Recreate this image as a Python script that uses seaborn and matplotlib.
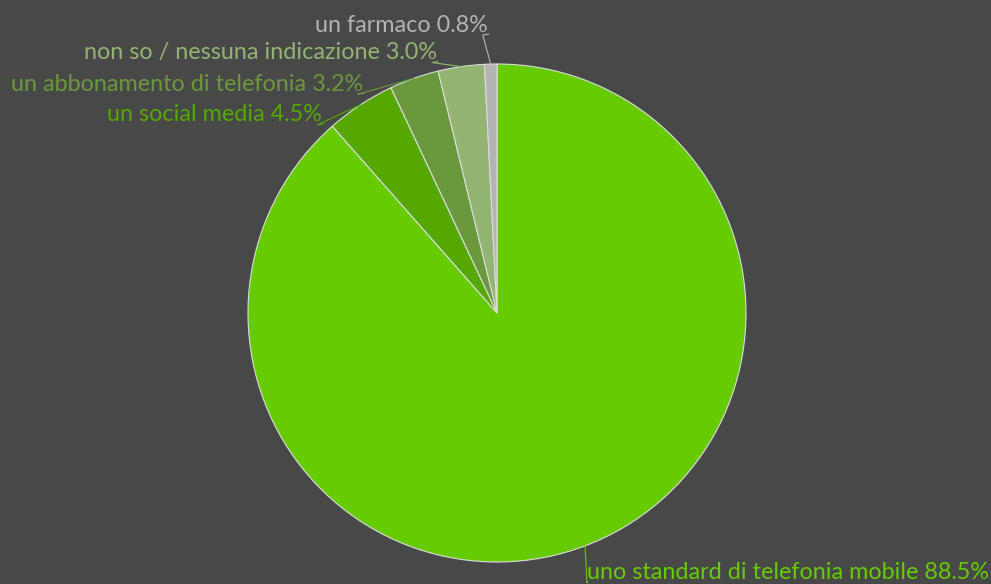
import numpy as np
import matplotlib.pyplot as plt
import seaborn as sns

# survey answers, clockwise from 12 o'clock
labels = ['uno standard di telefonia mobile', 'un social media',
          'un abbonamento di telefonia', 'non so / nessuna indicazione',
          'un farmaco']
values = [88.5, 4.5, 3.2, 3.0, 0.8]
colors = ['#66cc00', '#55a800', '#6b983c', '#94b474', '#b4b4b4']

# text offsets from the wedge rim, in pixels (dx, dy), plus alignment
label_offsets = [(2, -27, 'left'), (-38, -10, 'right'), (-51, -6, 'right'),
                 (-24, 14, 'right'), (-3, 39, 'right')]

bg = '#484848'
sns.set_theme(style='dark', rc={'figure.facecolor': bg, 'axes.facecolor': bg})
plt.rcParams['font.family'] = ['Lato', 'DejaVu Sans']

fig = plt.figure(figsize=(9.91, 5.84), dpi=100)
R = 249  # pie radius in pixels
ax = fig.add_axes([(497 - R) / 991, (584 - 313 - R) / 584, 2 * R / 991, 2 * R / 584])

wedges, _ = ax.pie(values, colors=colors, startangle=90, counterclock=False,
                   wedgeprops={'edgecolor': '#dcdcdc', 'linewidth': 0.8})
ax.set_xlim(-1, 1)
ax.set_ylim(-1, 1)
ax.set_aspect('equal')
ax.axis('off')

for w, lab, val, col, (dx, dy, ha) in zip(wedges, labels, values, colors, label_offsets):
    ang = np.deg2rad((w.theta1 + w.theta2) / 2)
    x0, y0 = np.cos(ang), np.sin(ang)
    tx, ty = x0 + dx / R, y0 + dy / R
    # leader line: rim -> corner of the text
    ex = tx + (0 if ha == 'left' else 1 / R)
    ey = ty - 9 / R
    ax.plot([x0, ex + (-6 / R if ha == 'right' else 0), ex], [y0, ey - 1 / R, ey],
            color=col, lw=0.8, clip_on=False)
    ax.text(tx, ty, f'{lab} {val:.1f}%', color=col, fontsize=16.8,
            ha=ha, va='center', clip_on=False)

fig.savefig('out.png', dpi=100, facecolor=bg)
